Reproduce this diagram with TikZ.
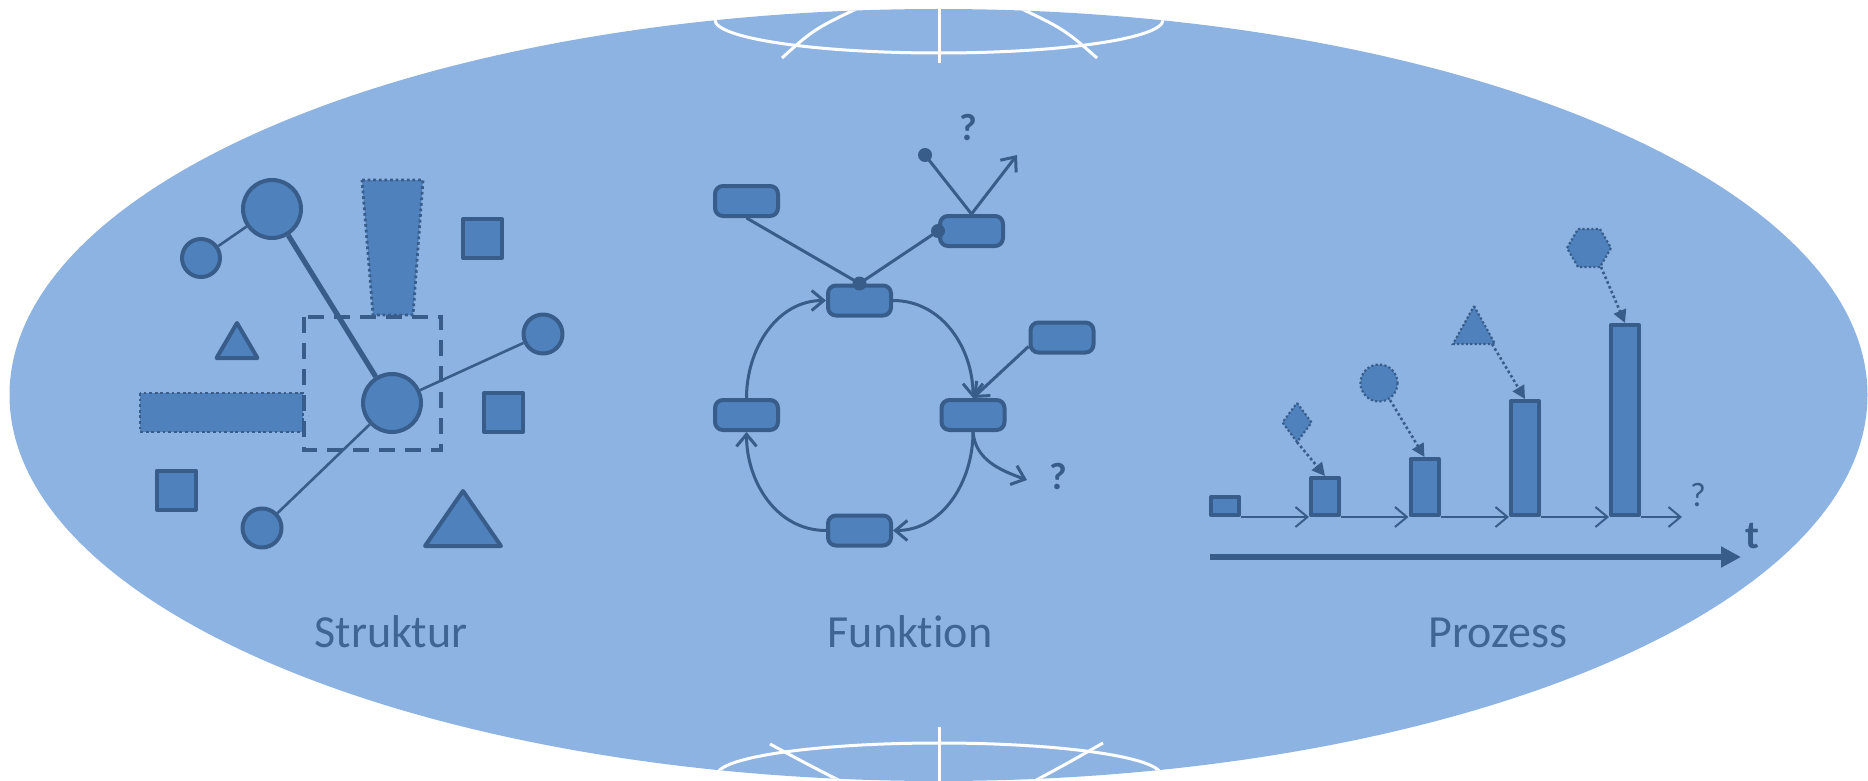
\documentclass[tikz,border=0pt]{standalone}
\usepackage{fontspec}
\setmainfont{Carlito}[Ligatures=NoCommon]
\usetikzlibrary{arrows.meta,shapes.geometric}
\definecolor{bgblue}{HTML}{8DB3E2}
\definecolor{shfill}{HTML}{4F81BD}
\definecolor{shline}{HTML}{385D8A}
\definecolor{txtblue}{HTML}{3F6595}
\begin{document}
\begin{tikzpicture}[x=0.5pt,y=-0.5pt,
  shp/.style={fill=shfill, draw=shline, line width=2pt, line join=round},
  circ/.style={shp, circle, inner sep=0pt},
  sq/.style={shp, rectangle, inner sep=0pt, minimum size=19.5pt},
  dotb/.style={fill=shfill, draw=shline, line width=1.4pt, dash pattern=on 1.4pt off 1.4pt},
  dotp/.style={fill=shfill, draw=shline, line width=1.1pt, dash pattern=on 1.1pt off 1.1pt},
  fbox/.style={shp, rectangle, rounded corners=4pt, minimum width=31.5pt, minimum height=15pt, inner sep=0pt},
  bar/.style={shp, rectangle, minimum width=14pt, inner sep=0pt, anchor=south},
  conn/.style={draw=shline, line width=1.5pt},
  oarr/.style={conn, -{Straight Barb[length=6pt,width=10pt,line width=1.5pt]}},
  parr/.style={draw=shline, line width=1pt, -{Straight Barb[length=6pt,width=10pt,line width=1pt]}},
  darr/.style={draw=shline, line width=1.3pt, dash pattern=on 1.3pt off 1.3pt, -{Triangle[length=6.5pt,width=6.5pt]}},
  dotnode/.style={circle, fill=shline, inner sep=0pt, minimum size=7pt},
  lbl/.style={text=txtblue, font=\fontsize{23}{28}\selectfont, anchor=base},
  qm/.style={text=shline, font=\bfseries\fontsize{19}{23}\selectfont},
  globe/.style={draw=white, line width=1.5pt},
]
\useasboundingbox (0,0) rectangle (1868,781);
% background ellipse
\fill[bgblue] (938.5,395) ellipse [x radius=929, y radius=386];
\begin{scope}
  \clip (938.5,395) ellipse [x radius=929, y radius=386];
  % top globe
  \draw[globe] (939,20) ellipse [x radius=224, y radius=33];
  \draw[globe] (939,-5) -- (939,63);
  \draw[globe] (782,58) .. controls (815,28) .. (880,-2);
  \draw[globe] (1097,58) .. controls (1063,28) .. (998,-2);
  % bottom globe
  \draw[globe] (939,775) ellipse [x radius=222, y radius=32];
  \draw[globe] (939,727) -- (939,790);
  \draw[globe] (770,744) .. controls (805,763) .. (862,792);
  \draw[globe] (1103,743) .. controls (1068,763) .. (1014,792);
\end{scope}

% ---------------- Struktur ----------------
\draw[dotb] (362,180) -- (423,180) -- (413,315) -- (373,315) -- cycle;
\draw[dotb] (140,393) rectangle (303,432);
\draw[shline, line width=2pt, dash pattern=on 8pt off 5pt] (304,317) rectangle (441,450);
\draw[shp] (237,323) -- (257.5,358) -- (216.5,358) -- cycle;
\draw[shp] (463,491) -- (501,546) -- (425,546) -- cycle;
\node[sq] (s1) at (482.5,238.5) {};
\node[sq] (s2) at (503.5,412.5) {};
\node[sq] (s3) at (176.5,490) {};
\node[circ, minimum size=19pt] (c1) at (201,258) {};
\node[circ, minimum size=29pt] (c2) at (272,209) {};
\node[circ, minimum size=29pt] (c3) at (392,403) {};
\node[circ, minimum size=19.5pt] (c4) at (543,334) {};
\node[circ, minimum size=19.5pt] (c5) at (262,528) {};
\draw[shline, line width=1.3pt] (c1) -- (c2);
\draw[shline, line width=2.6pt] (c2) -- (c3);
\draw[shline, line width=1.3pt] (c3) -- (c4);
\draw[shline, line width=1.3pt] (c3) -- (c5);

% ---------------- Funktion ----------------
\node[fbox] (R1) at (746.5,201) {};
\node[fbox] (R2) at (971.5,231) {};
\node[fbox] (R3) at (859.5,300.5) {};
\node[fbox] (R4) at (1062,337.5) {};
\node[fbox] (R5) at (746.5,415) {};
\node[fbox] (R6) at (973,415) {};
\node[fbox] (R7) at (859.5,530.5) {};
\draw[conn] (R1.south) -- (R3.north);
\draw[conn] (R3.north) -- (R2.west);
\node[dotnode] (d1) at (R3.north) {};
\node[dotnode] (d2) at (R2.west) {};
\node[dotnode] (q1) at (925,155) {};
\coordinate (q2) at (1017,155);
\draw[conn] (R2.north) -- (q1.center);
\draw[oarr] (R2.north) -- (q2);
\node[qm] (qa) at (968,128) {?};
\draw[oarr] (R3.east) to[out=0, in=90] (R6.north);
\draw[oarr] (R6.south) to[out=-90, in=0] (R7.east);
\draw[oarr] (R7.west) to[out=180, in=-90] (R5.south);
\draw[oarr] (R5.north) to[out=90, in=180] (R3.west);
\draw[oarr] (R4.195) -- (R6.north);
\coordinate (q3) at (1027,480);
\draw[oarr] (R6.south) to[out=-85, in=160] (q3);
\node[qm] (qb) at (1058,477) {?};

% ---------------- Prozess ----------------
\draw[dotp] (1297,403) -- (1311.5,422.5) -- (1297,442) -- (1282.5,422.5) -- cycle;
\coordinate (dm) at (1297,442);
\draw[dotp] (1379,383) circle [radius=18.5];
\coordinate (cm) at (1390,400);
\draw[dotp] (1474,306) -- (1495,344) -- (1453,344) -- cycle;
\coordinate (tm) at (1492,344);
\draw[dotp] (1567,248) -- (1578,229) -- (1600,229) -- (1611,248) -- (1600,267) -- (1578,267) -- cycle;
\coordinate (hm) at (1601,267);
\node[bar, minimum height=9pt] (b0) at (1225,517) {};
\node[bar, minimum height=18.5pt] (b1) at (1325,517) {};
\node[bar, minimum height=28pt] (b2) at (1424.5,517) {};
\node[bar, minimum height=57pt] (b3) at (1525,517) {};
\node[bar, minimum height=95pt] (b4) at (1625,517) {};
\draw[darr] (dm) -- (b1.north);
\draw[darr] (cm) -- (b2.north);
\draw[darr] (tm) -- (b3.north);
\draw[darr] (hm) -- (b4.north);
\draw[parr] (b0.south east) -- (b1.south west);
\draw[parr] (b1.south east) -- (b2.south west);
\draw[parr] (b2.south east) -- (b3.south west);
\draw[parr] (b3.south east) -- (b4.south west);
\coordinate (pe) at (1682,517);
\draw[parr] (b4.south east) -- (pe);
\node[text=shline, font=\fontsize{17}{20}\selectfont] (qc) at (1698,495) {?};
\coordinate (t0) at (1210,557);
\coordinate (t1) at (1741,557);
\draw[shline, line width=3.3pt, -{Triangle[length=10pt,width=10pt]}] (t0) -- (t1);
\node[text=shline, font=\bfseries\fontsize{20}{24}\selectfont] (tl) at (1752,536) {t};

% ---------------- labels ----------------
\node[lbl] (ls) at (391,647) {Struktur};
\node[lbl] (lf) at (910,647) {Funktion};
\node[lbl] (lp) at (1498,647) {Prozess};
\end{tikzpicture}
\end{document}
